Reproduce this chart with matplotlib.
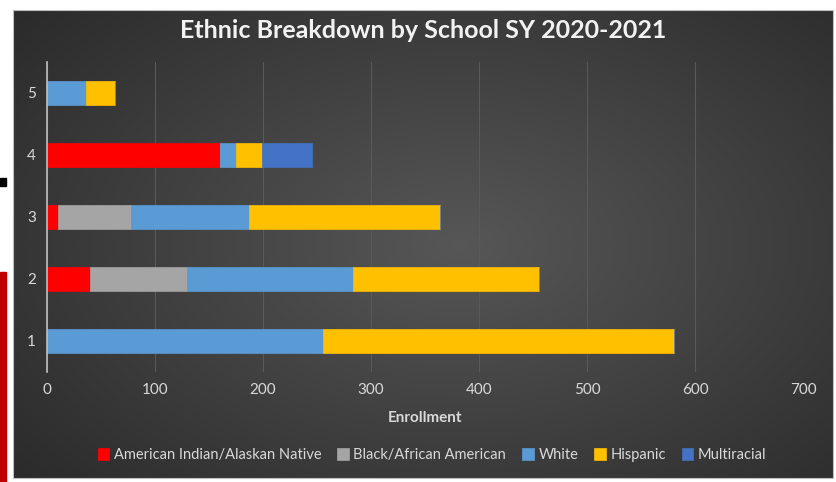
import numpy as np
import matplotlib
matplotlib.use('Agg')
import matplotlib.pyplot as plt
from matplotlib.patches import Rectangle

# donnees
schools = ['1', '2', '3', '4', '5']
series = ['American Indian/Alaskan Native', 'Black/African American',
          'White', 'Hispanic', 'Multiracial']
aian = [0, 40, 10, 160, 0]
black = [0, 90, 68, 0, 0]
white = [256, 153, 109, 15, 36]
hispanic = [325, 173, 177, 24, 27]
multi = [0, 0, 0, 46, 0]
colors = ['#ff0000', '#a5a5a5', '#5b9bd5', '#ffc000', '#4472c4']
xticks = [0, 100, 200, 300, 400, 500, 600, 700]

plt.rcParams['font.family'] = ['Lato', 'DejaVu Sans']

W, H = 836, 482
fig = plt.figure(figsize=(W / 100, H / 100), dpi=100, facecolor='white')

# fond sombre avec degrade radial
px0, py0, px1, py1 = 13, 10, 833, 478
bg = fig.add_axes([px0 / W, 1 - py1 / H, (px1 - px0) / W, (py1 - py0) / H])
yy, xx = np.mgrid[0:200, 0:350]
d = np.sqrt(((xx - 190) / 260.0) ** 2 + ((yy - 100) / 160.0) ** 2)
g = np.clip(0.34 - 0.18 * d, 0.14, 0.34)
bg.imshow(np.dstack([g, g, g]), aspect='auto', interpolation='bilinear')
bg.set_xticks([]), bg.set_yticks([])
for s in bg.spines.values():
    s.set_color('#bfbfbf'), s.set_linewidth(0.8)

# zone de trace
ax0, ax1, ay0, ay1 = 47, 803, 62, 372
ax = fig.add_axes([ax0 / W, 1 - ay1 / H, (ax1 - ax0) / W, (ay1 - ay0) / H])
ax.patch.set_alpha(0)

y = np.arange(1, len(schools) + 1)
left = np.zeros(len(schools))
for name, vals, c in zip(series, [aian, black, white, hispanic, multi], colors):
    vals = np.array(vals, dtype=float)
    ax.barh(y, vals, left=left, height=0.4, color=c, label=name,
            edgecolor=c, linewidth=0.5, zorder=3)
    left += vals

ax.set_xlim(0, 700)
ax.set_ylim(0.5, 5.5)
ax.set_xticks(xticks)
ax.set_yticks(y)
ax.set_yticklabels(schools)
ax.grid(axis='x', color='#595959', linewidth=0.8, zorder=0)
ax.tick_params(length=0, colors='#d9d9d9', labelsize=11, pad=8)
ax.tick_params(axis='y', pad=8)
for k in ['top', 'right', 'bottom']:
    ax.spines[k].set_visible(False)
ax.spines['left'].set_color('#bfbfbf')
ax.spines['left'].set_linewidth(1.2)
ax.spines['left'].set_zorder(4)

fig.text(423 / W, 1 - 30 / H, 'Ethnic Breakdown by School SY 2020-2021',
         ha='center', va='center', color='#f2f2f2', fontsize=18,
         fontweight='bold')
fig.text(425 / W, 1 - 418 / H, 'Enrollment', ha='center', va='center',
         color='#d9d9d9', fontsize=11, fontweight='bold')

fig.legend(loc='center', bbox_to_anchor=(432 / W, 1 - 455 / H), ncol=5,
           frameon=False, fontsize=10.5, labelcolor='#d9d9d9',
           handlelength=0.8, handleheight=0.8, handletextpad=0.3,
           columnspacing=1.1)

# marques en bordure gauche
fig.patches.append(Rectangle((0, 1 - 186 / H), 6 / W, 8 / H,
                             transform=fig.transFigure, color='black'))
fig.patches.append(Rectangle((0, 0), 6 / W, (H - 272) / H,
                             transform=fig.transFigure, color='#c00000'))

fig.savefig('out.png', dpi=100, facecolor='white')
